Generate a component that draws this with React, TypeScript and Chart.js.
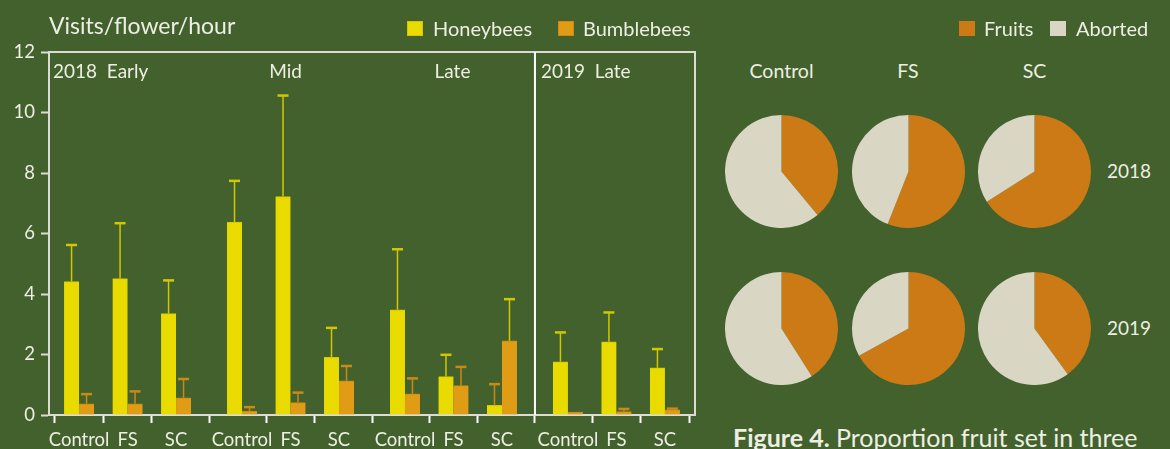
import React, { useEffect, useRef } from "react";
import { Chart, registerables } from "chart.js";

Chart.register(...registerables);

// ---------------- data ----------------
const periods = ["2018  Early", "Mid", "Late", "2019  Late"];
const treatments = ["Control", "FS", "SC"];
const honeybeeMeans = [4.41, 4.51, 3.35, 6.38, 7.22, 1.91, 3.48, 1.27, 0.32, 1.76, 2.42, 1.56];
const honeybeeErrors = [1.21, 1.83, 1.1, 1.36, 3.34, 0.97, 2.0, 0.72, 0.7, 0.97, 0.97, 0.62];
const bumblebeeMeans = [0.37, 0.37, 0.57, 0.13, 0.41, 1.13, 0.7, 0.97, 2.45, 0.1, 0.11, 0.17];
const bumblebeeErrors = [0.32, 0.41, 0.62, 0.13, 0.33, 0.49, 0.51, 0.62, 1.38, 0.0, 0.09, 0.04];
const yTickValues = [0, 2, 4, 6, 8, 10, 12];
const barLegend = ["Honeybees", "Bumblebees"];

const pieTreatments = ["Control", "FS", "SC"];
const pieYears = ["2018", "2019"];
const fruits2018 = [39, 56, 66];
const fruits2019 = [41, 67, 40];
const pieLegend = ["Fruits", "Aborted"];

// ---------------- styles ----------------
const FONT = "Lato, 'Open Sans', sans-serif";
const BG = "#42612C";
const TEXT = "#EEEEE4";
const AXIS = "#DCDCD4";
const HONEY = "#E9DB00";
const HONEY_EDGE = "#D4C600";
const BUMBLE = "#E09C15";
const BUMBLE_EDGE = "#C98A16";
const FRUIT = "#CB7A16";
const ABORTED = "#D9D6C4";
const GROUP_STEP = 3.36;
const swappedErrorIndex = [8];

const xPos = (k: number) => Math.floor(k / 3) * GROUP_STEP + (k % 3);
const categoryCount = honeybeeMeans.length;

function BarChart() {
  const ref = useRef<HTMLCanvasElement>(null);
  useEffect(() => {
    const canvas = ref.current!;
    const means = [honeybeeMeans, bumblebeeMeans];
    const errs = [honeybeeErrors, bumblebeeErrors];
    const errColors = [HONEY_EDGE, BUMBLE_EDGE];

    const decor = {
      id: "decor",
      afterDatasetsDraw(chart: any) {
        const ctx = chart.ctx;
        const ys = chart.scales.y;
        ctx.save();
        for (let d = 0; d < 2; d++) {
          const meta = chart.getDatasetMeta(d);
          meta.data.forEach((bar: any, k: number) => {
            const err = errs[d][k];
            if (err <= 0.015) return;
            const top = ys.getPixelForValue(means[d][k] + err);
            const swapped = swappedErrorIndex.includes(k);
            ctx.strokeStyle = errColors[swapped ? 1 - d : d];
            ctx.lineWidth = 1.5;
            ctx.beginPath();
            ctx.moveTo(bar.x, bar.y);
            ctx.lineTo(bar.x, top);
            ctx.stroke();
            ctx.lineWidth = 2.5;
            ctx.beginPath();
            ctx.moveTo(bar.x - 5.5, top);
            ctx.lineTo(bar.x + 5.5, top);
            ctx.stroke();
          });
        }
        ctx.restore();
      },
      afterDraw(chart: any) {
        const ctx = chart.ctx;
        const { left, right, top, bottom } = chart.chartArea;
        const xs = chart.scales.x;
        ctx.save();
        ctx.strokeStyle = AXIS;
        ctx.lineWidth = 2;
        ctx.beginPath();
        ctx.moveTo(left, top);
        ctx.lineTo(right, top);
        ctx.lineTo(right, bottom);
        ctx.stroke();
        const divX = xs.getPixelForValue((xPos(8) + xPos(9)) / 2);
        ctx.strokeStyle = "#FFFFFF";
        ctx.beginPath();
        ctx.moveTo(divX, top);
        ctx.lineTo(divX, bottom);
        ctx.stroke();
        ctx.fillStyle = TEXT;
        ctx.font = `19px ${FONT}`;
        ctx.textBaseline = "alphabetic";
        const base = top + 26;
        ctx.textAlign = "left";
        ctx.fillText(periods[0], left + 4, base);
        ctx.textAlign = "center";
        ctx.fillText(periods[1], xs.getPixelForValue(xPos(4)) - 5, base);
        ctx.fillText(periods[2], xs.getPixelForValue(xPos(7)) - 1, base);
        ctx.textAlign = "left";
        ctx.fillText(periods[3], divX + 6, base);
        ctx.restore();
      },
    };

    const chart = new Chart(canvas, {
      type: "bar",
      data: {
        datasets: [
          {
            label: barLegend[0],
            data: honeybeeMeans.map((v, k) => ({ x: xPos(k), y: v })),
            backgroundColor: HONEY,
            borderColor: HONEY_EDGE,
            borderWidth: { top: 1, left: 0, right: 0, bottom: 0 },
            borderSkipped: false,
          },
          {
            label: barLegend[1],
            data: bumblebeeMeans.map((v, k) => ({ x: xPos(k), y: v })),
            backgroundColor: BUMBLE,
            borderColor: BUMBLE_EDGE,
            borderWidth: { top: 1, left: 0, right: 0, bottom: 0 },
            borderSkipped: false,
          },
        ],
      },
      options: {
        animation: false,
        responsive: false,
        maintainAspectRatio: false,
        layout: { padding: { top: 52, right: 15, left: 0, bottom: 0 } },
        plugins: { legend: { display: false }, tooltip: { enabled: false } },
        datasets: { bar: { barThickness: 15 } } as any,
        scales: {
          x: {
            type: "linear",
            min: -0.62,
            max: xPos(categoryCount - 1) + 0.62,
            offset: false,
            bounds: "data",
            afterBuildTicks: (s: any) => {
              s.ticks = honeybeeMeans.map((_, k) => ({ value: xPos(k) }));
            },
            afterFit: (s: any) => {
              s.height = 34;
            },
            ticks: {
              autoSkip: false,
              maxRotation: 0,
              padding: 6,
              color: TEXT,
              font: { family: FONT, size: 18.5 },
              callback: (_v: any, i: number) => treatments[i % 3],
            },
            grid: {
              drawOnChartArea: false,
              drawTicks: true,
              tickLength: 8,
              tickColor: "#FFFFFF",
              tickWidth: 2,
              color: "#FFFFFF",
            },
            border: { display: true, color: AXIS, width: 2 },
          } as any,
          y: {
            min: 0,
            max: 12,
            afterBuildTicks: (s: any) => {
              s.ticks = yTickValues.map((v) => ({ value: v }));
            },
            afterFit: (s: any) => {
              s.width = 49;
            },
            ticks: {
              padding: 6,
              color: TEXT,
              font: { family: FONT, size: 18.5 },
            },
            grid: {
              drawOnChartArea: false,
              drawTicks: true,
              tickLength: 8,
              tickColor: AXIS,
              tickWidth: 2,
            },
            border: { display: true, color: AXIS, width: 2 },
          } as any,
        },
      },
      plugins: [decor],
    });
    return () => chart.destroy();
  }, []);
  return (
    <canvas
      ref={ref}
      width={710}
      height={449}
      style={{ position: "absolute", left: 0, top: 0, width: 710, height: 449 }}
    />
  );
}

function Pie({ fruit, cx, cy }: { fruit: number; cx: number; cy: number }) {
  const ref = useRef<HTMLCanvasElement>(null);
  const size = 113;
  useEffect(() => {
    const chart = new Chart(ref.current!, {
      type: "pie",
      data: {
        labels: pieLegend,
        datasets: [
          {
            data: [fruit, 100 - fruit],
            backgroundColor: [FRUIT, ABORTED],
            borderWidth: 0,
            hoverOffset: 0,
          },
        ],
      },
      options: {
        animation: false,
        responsive: false,
        maintainAspectRatio: false,
        layout: { padding: 0 },
        plugins: { legend: { display: false }, tooltip: { enabled: false } },
      },
    });
    return () => chart.destroy();
  }, [fruit]);
  return (
    <canvas
      ref={ref}
      width={size}
      height={size}
      style={{ position: "absolute", left: cx - size / 2, top: cy - size / 2, width: size, height: size }}
    />
  );
}

function Label({
  text,
  x,
  base,
  size,
  align = "left",
  weight = 400,
}: {
  text: React.ReactNode;
  x: number;
  base: number;
  size: number;
  align?: "left" | "center";
  weight?: number;
}) {
  return (
    <div
      style={{
        position: "absolute",
        left: x,
        top: base - 0.887 * size,
        fontFamily: FONT,
        fontSize: size,
        fontWeight: weight,
        lineHeight: 1,
        color: TEXT,
        whiteSpace: "pre",
        transform: align === "center" ? "translateX(-50%)" : undefined,
      }}
    >
      {text}
    </div>
  );
}

function Swatch({ x, color, edge }: { x: number; color: string; edge: string }) {
  return (
    <div
      style={{
        position: "absolute",
        left: x,
        top: 21,
        width: 16,
        height: 15,
        background: color,
        boxSizing: "border-box",
        border: `1px solid ${edge}`,
      }}
    />
  );
}

export default function App() {
  const pieXs = [781.5, 908, 1034.6];
  const pieYs = [171.3, 328];
  const fruitsByYear = [fruits2018, fruits2019];
  return (
    <div
      style={{
        position: "fixed",
        left: 0,
        top: 0,
        width: 1170,
        height: 449,
        background: BG,
        overflow: "hidden",
      }}
    >
      <BarChart />
      <Label text="Visits/flower/hour" x={49} base={34} size={23} />
      <Swatch x={407} color={HONEY} edge={HONEY_EDGE} />
      <Label text={barLegend[0]} x={433} base={36} size={20} />
      <Swatch x={558} color={BUMBLE} edge={BUMBLE_EDGE} />
      <Label text={barLegend[1]} x={583} base={36} size={20} />

      <Swatch x={959} color={FRUIT} edge={FRUIT} />
      <Label text={pieLegend[0]} x={984} base={36} size={20} />
      <Swatch x={1050} color={ABORTED} edge={ABORTED} />
      <Label text={pieLegend[1]} x={1076} base={36} size={20} />

      {pieTreatments.map((t, i) => (
        <Label key={t} text={t} x={pieXs[i]} base={78} size={19.5} align="center" />
      ))}
      {pieYears.map((y, r) =>
        fruitsByYear[r].map((f, i) => (
          <Pie key={`${y}-${i}`} fruit={f} cx={pieXs[i]} cy={pieYs[r]} />
        ))
      )}
      {pieYears.map((y, r) => (
        <Label key={y} text={y} x={1129} base={pieYs[r] + 7} size={19} align="center" />
      ))}
      <Label
        text={
          <>
            <span style={{ fontWeight: 700 }}>Figure 4.</span> Proportion fruit set in three
          </>
        }
        x={733}
        base={447}
        size={25}
      />
    </div>
  );
}
